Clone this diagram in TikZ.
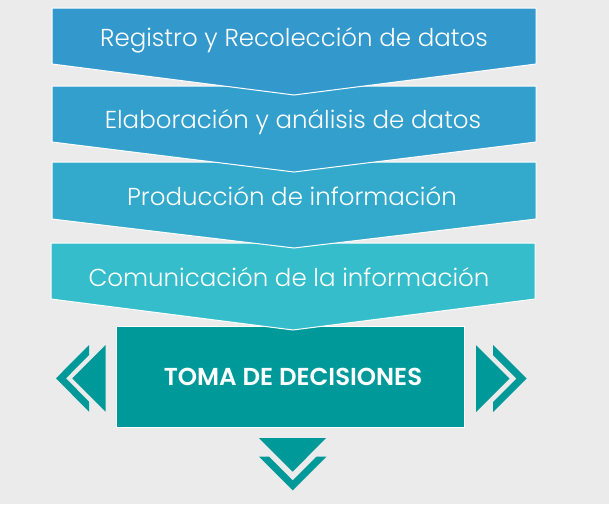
\documentclass[tikz,border=0pt]{standalone}
\usepackage{fontspec}
\setmainfont{Poppins}[UprightFont={* Light}, BoldFont={* SemiBold}]
\definecolor{bg}{HTML}{EBEBEB}
\definecolor{cA}{HTML}{3399CC}
\definecolor{cB}{HTML}{339FCC}
\definecolor{cC}{HTML}{33AACB}
\definecolor{cD}{HTML}{36BDCB}
\definecolor{teal}{HTML}{009999}
\begin{document}
\begin{tikzpicture}[x=1pt,y=-1pt,
  chev/.style={draw=white, line width=1pt, line join=miter},
  lbl/.style={text=white, font=\fontsize{24.5}{28}\selectfont, inner sep=0pt, anchor=base},
  arr/.style={fill=teal, draw=none}]
\useasboundingbox[fill=bg] (0,0) rectangle (609,504);
% decision box
\filldraw[chev, fill=teal] (116,326) rectangle (464,427);
\node[lbl, font=\bfseries\fontsize{24.5}{28}\selectfont] (toma) at (293,385.3) {TOMA DE DECISIONES};
% chevrons (bottom first)
\filldraw[chev, fill=cD] (51,243) -- (535,243) -- (535,299) -- (293,330) -- (51,299) -- cycle;
\node[lbl] (comm) at (289,286.7) {Comunicación de la información};
\filldraw[chev, fill=cC] (52,162) -- (536,162) -- (536,219) -- (294,248) -- (52,219) -- cycle;
\node[lbl] (prod) at (292,205) {Producción de información};
\filldraw[chev, fill=cB] (52,86) -- (536,86) -- (536,142) -- (294,172) -- (52,142) -- cycle;
\node[lbl] (elab) at (293,128.3) {Elaboración y análisis de datos};
\filldraw[chev, fill=cA] (52,8) -- (536,8) -- (536,64) -- (294,95) -- (52,64) -- cycle;
\node[lbl] (reg) at (294,46.7) {Registro y Recolección de datos};
% left arrows
\fill[arr] (89,345) -- (56,378.3) -- (89,411.7) -- (89,401.7) -- (66,378.3) -- (89,355) -- cycle;
\fill[arr] (105.7,345) -- (72.3,378.3) -- (105.7,411.7) -- cycle;
% right arrows
\fill[arr] (493,345) -- (526.5,378.5) -- (493,412) -- (493,402) -- (516.5,378.5) -- (493,355) -- cycle;
\fill[arr] (476,345) -- (509.5,378.5) -- (476,412) -- cycle;
% down arrows
\fill[arr] (259,438) -- (326,438) -- (292.7,471.7) -- cycle;
\fill[arr] (259,456.7) -- (269,456.7) -- (292.7,480.4) -- (316.4,456.7) -- (326.4,456.7) -- (292.7,490.4) -- cycle;
\end{tikzpicture}
\end{document}
